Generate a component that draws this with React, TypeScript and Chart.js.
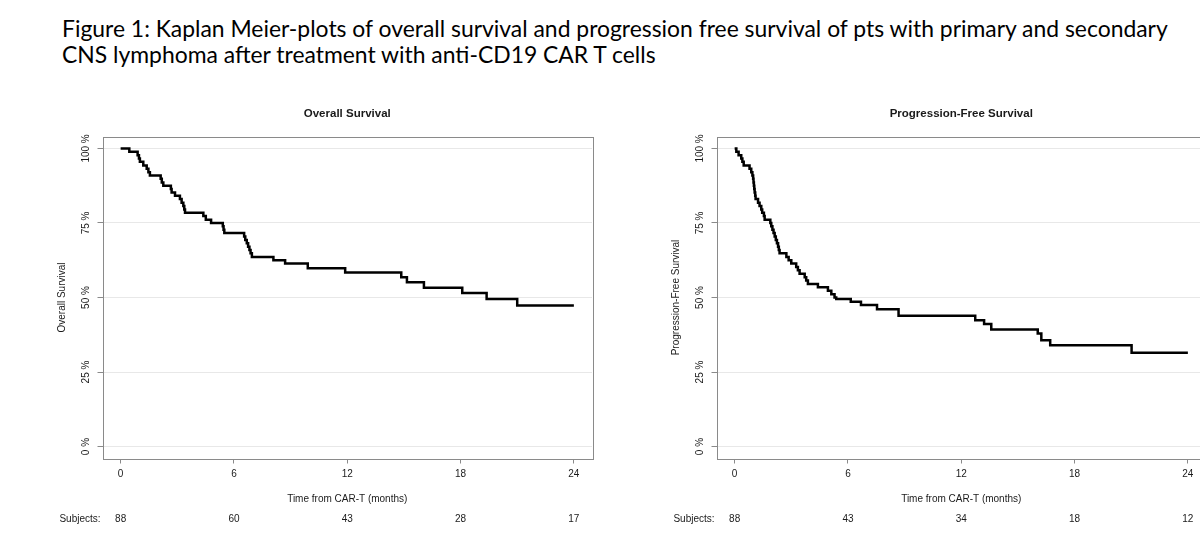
import React, { useEffect, useRef } from "react";
import { Chart, registerables } from "chart.js";

Chart.register(...registerables);

// ---------- data ----------
const TICK_MONTHS = [0, 6, 12, 18, 24];
const Y_TICKS = [0, 25, 50, 75, 100];
const Y_TICK_LABELS = ["0 %", "25 %", "50 %", "75 %", "100 %"];

const OS_TIMES = [0, 0.46, 0.9, 0.97, 1.02, 1.2, 1.38, 1.47, 1.55, 2.12, 2.18, 2.26, 2.66, 2.7, 2.88, 3.14, 3.23, 3.32, 3.37, 3.41, 4.38, 4.51, 4.79, 5.41, 5.45, 5.49, 6.54, 6.6, 6.68, 6.75, 6.82, 6.88, 6.95, 8.09, 8.71, 9.91, 11.89, 14.86, 15.16, 16.06, 18.09, 19.38, 21.0, 24];
const OS_VALUES = [100, 98.9, 97.7, 96.6, 95.5, 94.3, 93.2, 92.0, 90.9, 89.8, 88.6, 87.5, 86.4, 85.2, 84.1, 83.0, 81.8, 80.7, 79.5, 78.4, 77.3, 76.1, 75.0, 73.9, 72.7, 71.6, 70.5, 69.3, 68.2, 67.0, 65.9, 64.8, 63.6, 62.5, 61.4, 59.8, 58.4, 56.8, 55.1, 53.3, 51.5, 49.5, 47.3, 47.3];
const OS_SUBJECTS = [88, 60, 43, 28, 17];

const PFS_TIMES = [0, 0.09, 0.21, 0.35, 0.41, 0.48, 0.79, 0.88, 0.94, 0.98, 1.0, 1.02, 1.04, 1.06, 1.09, 1.11, 1.24, 1.32, 1.41, 1.46, 1.55, 1.59, 1.89, 1.94, 2.0, 2.06, 2.12, 2.18, 2.24, 2.3, 2.34, 2.38, 2.74, 2.86, 3.0, 3.26, 3.35, 3.44, 3.71, 3.79, 3.88, 4.41, 4.94, 5.12, 5.29, 5.38, 6.15, 6.69, 7.54, 8.68, 12.74, 13.21, 13.59, 16.05, 16.24, 16.71, 21.02, 24];
const PFS_VALUES = [100, 98.9, 97.7, 96.6, 95.5, 94.3, 93.2, 92.0, 90.9, 89.8, 88.6, 87.5, 86.4, 85.2, 84.1, 83.0, 81.8, 80.7, 79.5, 78.4, 77.3, 76.1, 75.0, 73.9, 72.7, 71.6, 70.5, 69.3, 68.2, 67.0, 65.9, 64.8, 63.6, 62.5, 61.4, 60.2, 59.1, 58.0, 56.8, 55.7, 54.5, 53.4, 52.3, 51.1, 50.0, 49.5, 48.6, 47.5, 46.1, 43.9, 42.4, 41.1, 39.3, 37.9, 35.7, 34.0, 31.5, 31.5];
const PFS_SUBJECTS = [88, 43, 34, 18, 12];

const FIG_TITLE_1 = "Figure 1: Kaplan Meier-plots of overall survival and progression free survival of pts with primary and secondary";
const FIG_TITLE_2 = "CNS lymphoma after treatment with anti-CD19 CAR T cells";
const X_TITLE = "Time from CAR-T (months)";

// ---------- styling ----------
const FONT = "'Liberation Sans', Arial, Helvetica, sans-serif";
const AXIS_GRAY = "#8a8a8a";
const GRID_GRAY = "#e8e8e8";
const TEXT = "#1a1a1a";
const CANVAS_W = 610;
const CANVAS_H = 554;

type PanelProps = {
  offset: number;
  title: string;
  yTitle: string;
  times: number[];
  values: number[];
  subjects: number[];
};

function KMPanel({ offset, title, yTitle, times, values, subjects }: PanelProps) {
  const ref = useRef<HTMLCanvasElement>(null);

  useEffect(() => {
    const canvas = ref.current;
    if (!canvas) return;

    const decor = {
      id: "kmDecor",
      afterDraw(chart: any) {
        const ctx = chart.ctx as CanvasRenderingContext2D;
        const a = chart.chartArea;
        const xs = chart.scales.x;
        const ys = chart.scales.y;
        ctx.save();
        // box
        ctx.strokeStyle = AXIS_GRAY;
        ctx.lineWidth = 1;
        ctx.strokeRect(Math.round(a.left) + 0.5, Math.round(a.top) + 0.5, Math.round(a.right - a.left), Math.round(a.bottom - a.top));

        ctx.fillStyle = TEXT;
        // panel title
        ctx.font = `bold 11.5px ${FONT}`;
        ctx.textAlign = "center";
        ctx.textBaseline = "middle";
        ctx.fillText(title, (a.left + a.right) / 2, 114);

        // y tick labels (rotated)
        ctx.font = `10px ${FONT}`;
        Y_TICKS.forEach((v, i) => {
          ctx.save();
          ctx.translate(86, ys.getPixelForValue(v));
          ctx.rotate(-Math.PI / 2);
          ctx.textAlign = "center";
          ctx.textBaseline = "middle";
          ctx.fillText(Y_TICK_LABELS[i], 0, 0);
          ctx.restore();
        });

        // y title
        ctx.save();
        ctx.translate(62, (ys.getPixelForValue(0) + ys.getPixelForValue(100)) / 2);
        ctx.rotate(-Math.PI / 2);
        ctx.textAlign = "center";
        ctx.textBaseline = "middle";
        ctx.fillText(yTitle, 0, 0);
        ctx.restore();

        // x title
        ctx.textAlign = "center";
        ctx.textBaseline = "middle";
        ctx.fillText(X_TITLE, (a.left + a.right) / 2, 499.5);

        // subjects row
        ctx.fillText("Subjects:", 80, 519);
        TICK_MONTHS.forEach((m, i) => {
          ctx.fillText(String(subjects[i]), xs.getPixelForValue(m), 519);
        });
        ctx.restore();
      },
    };

    const chart = new Chart(canvas, {
      type: "line",
      data: {
        datasets: [
          {
            data: times.map((t, i) => ({ x: t, y: values[i] })),
            stepped: true,
            borderColor: "#000000",
            borderWidth: 2.5,
            pointRadius: 0,
            fill: false,
            tension: 0,
          },
        ],
      },
      options: {
        animation: false,
        responsive: false,
        maintainAspectRatio: false,
        devicePixelRatio: 1,
        layout: { padding: { left: 72, top: 136.5, right: 18, bottom: 75.5 } },
        plugins: {
          legend: { display: false },
          tooltip: { enabled: false },
          title: { display: false },
        },
        scales: {
          x: {
            type: "linear",
            min: -0.96,
            max: 24.96,
            afterBuildTicks: (s: any) => {
              s.ticks = TICK_MONTHS.map((v) => ({ value: v }));
            },
            afterFit: (s: any) => {
              s.height = 20;
            },
            grid: {
              drawOnChartArea: false,
              drawTicks: true,
              tickLength: 5,
              color: AXIS_GRAY,
              tickColor: AXIS_GRAY,
            },
            border: { display: false },
            ticks: {
              autoSkip: false,
              maxRotation: 0,
              minRotation: 0,
              padding: 5,
              color: TEXT,
              font: { family: FONT, size: 10 },
            },
          },
          y: {
            type: "linear",
            min: -4,
            max: 104,
            afterBuildTicks: (s: any) => {
              s.ticks = Y_TICKS.map((v) => ({ value: v }));
            },
            afterFit: (s: any) => {
              s.width = 30.5;
            },
            grid: {
              drawOnChartArea: true,
              drawTicks: true,
              tickLength: 5,
              color: GRID_GRAY,
              tickColor: AXIS_GRAY,
            },
            border: { display: false },
            ticks: { display: false },
          },
        },
      },
      plugins: [decor],
    } as any);

    return () => chart.destroy();
  }, [offset, title, yTitle, times, values, subjects]);

  return (
    <canvas
      ref={ref}
      width={CANVAS_W}
      height={CANVAS_H}
      style={{ position: "absolute", left: offset, top: 0, width: CANVAS_W, height: CANVAS_H }}
    />
  );
}

export default function App() {
  const titleStyle: React.CSSProperties = {
    position: "absolute",
    left: 62,
    fontFamily: "Lato, 'Open Sans', sans-serif",
    fontSize: 22.9,
    lineHeight: "26px",
    color: "#000",
    whiteSpace: "nowrap",
  };
  return (
    <div
      style={{
        position: "fixed",
        left: 0,
        top: 0,
        width: 1200,
        height: 554,
        overflow: "hidden",
        background: "#ffffff",
      }}
    >
      <div style={{ ...titleStyle, top: 15 }}>{FIG_TITLE_1}</div>
      <div style={{ ...titleStyle, top: 41 }}>{FIG_TITLE_2}</div>
      <KMPanel
        offset={0}
        title="Overall Survival"
        yTitle="Overall Survival"
        times={OS_TIMES}
        values={OS_VALUES}
        subjects={OS_SUBJECTS}
      />
      <KMPanel
        offset={614}
        title="Progression-Free Survival"
        yTitle="Progression-Free Survival"
        times={PFS_TIMES}
        values={PFS_VALUES}
        subjects={PFS_SUBJECTS}
      />
    </div>
  );
}
